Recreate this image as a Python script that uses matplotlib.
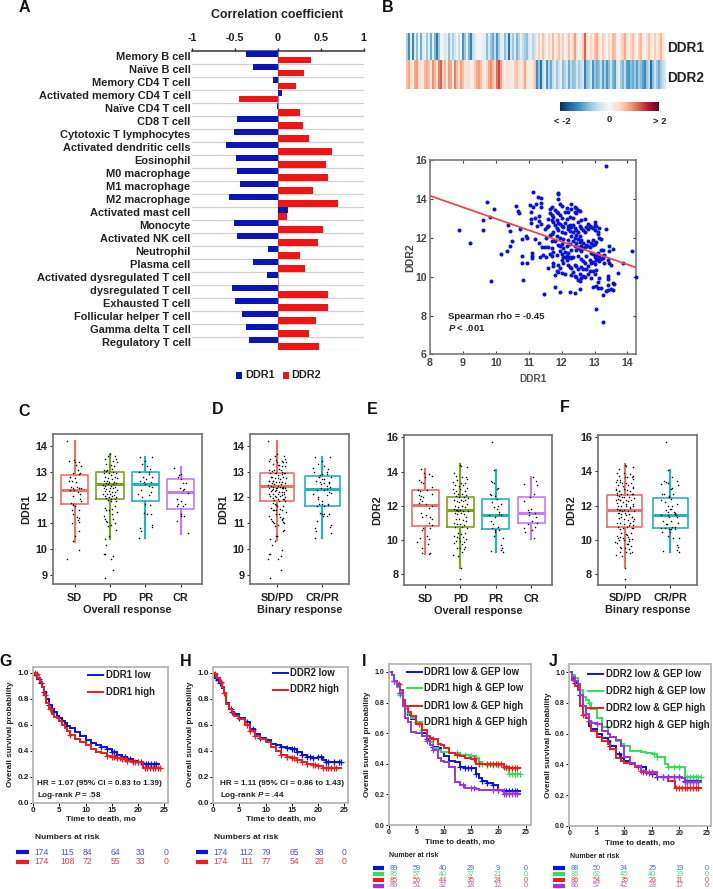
#!/usr/bin/env python
"""Multi panel figure: immune correlation, heatmap, scatter, boxplots and survival curves."""

import matplotlib
matplotlib.use("Agg")
import matplotlib.pyplot as plt
import matplotlib.transforms as mtrans
import numpy as np

plt.rcParams['font.family'] = ['Liberation Sans', 'DejaVu Sans']
plt.rcParams['font.weight'] = 'bold'
plt.rcParams['axes.labelweight'] = 'bold'
plt.rcParams['mathtext.fontset'] = 'custom'
plt.rcParams['mathtext.rm'] = 'Liberation Sans:bold'
plt.rcParams['mathtext.bf'] = 'Liberation Sans:bold'
plt.rcParams['mathtext.bfit'] = 'Liberation Sans:italic:bold'

W, H = 713, 889

# Panel A
cell_types = ["Memory B cell", "Naïve B cell", "Memory CD4 T cell", "Activated memory CD4 T cell",
              "Naïve CD4 T cell", "CD8 T cell", "Cytotoxic T lymphocytes", "Activated dendritic cells",
              "Eosinophil", "M0 macrophage", "M1 macrophage", "M2 macrophage", "Activated mast cell",
              "Monocyte", "Activated NK cell", "Neutrophil", "Plasma cell", "Activated dysregulated T cell",
              "dysregulated T cell", "Exhausted T cell", "Follicular helper T cell", "Gamma delta T cell",
              "Regulatory T cell"]
corr_ddr1 = [-0.365, -0.283, -0.06, 0.045, -0.005, -0.48, -0.51, -0.60, -0.485, -0.474, -0.44, -0.567,
             0.12, -0.516, -0.47, -0.113, -0.29, -0.124, -0.528, -0.497, -0.415, -0.365, -0.338]
corr_ddr2 = [0.39, 0.307, 0.217, -0.45, 0.26, 0.295, 0.365, 0.633, 0.56, 0.583, 0.415, 0.70,
             0.11, 0.53, 0.47, 0.26, 0.315, 0.008, 0.59, 0.59, 0.45, 0.365, 0.48]

# Panel B heatmap, z scores
hm_ddr1 = [-.8, -1.5, -.2, -1.6, -.3, -1.0, -.1, -1.2, -.3, -.2, -.9, -.3, -1.2, -.2, -1.1, -1.7, -.9, 0, -.1, -.4,
           -.2, -1.0, -.3, -.8, -.4, -.1, -.6, -.1, -1.4, -.9, -.2, -1.1, -1.6, -.6, -.3, -.1, 0, -.1, -.2, -.3,
           -1.0, -.4, -.9, -1.2, -.6, -1.4, -.8, -.3, -.2, -1.0, -.5, -1.8, -.4, -.9, -.3, -1.1, -.7, -.2, -.6, -.8,
           -1.0, -.4, -.2, -.7, -.5,
           .2, .6, .1, .7, .3, 0, .5, .2, .8, .1, .4, .7, .2, .6, 0, .3, .7, .1, .5, 1.0, .3, 0, .2, .6, 1.4, .4, .1,
           .5, .2, .7, .9, .4, .1, .6, .3, 0, .5, .2, .8, .7, .1, 0, .3, .6, .9, .4, .2, .5, .7, .3, 0, .6, .8, .2, .1,
           .4, .7, .3, .1, .6, .2, .5, .8, .3, .1]
hm_ddr2 = [.7, .9, .4, .1, .9, 1.0, .5, .3, .2, .8, .9, .7, .2, 1.1, .8, .3, 1.2, 1.4, .5, .8, .2, 1.0, .9, .1, 1.2,
           .8, .4, 1.0, .7, .2, .3, .4, .1, .2, .6, .9, 1.0, .7, .3, .2, .5, .9, 1.1, .8, .4, 1.3, 1.6, 1.0, .3, .1,
           .4, .3, .2, .1, .6, .7, .4, .2, .5, .9, .3, .2, .1, .3, .7,
           -1.5, -1.0, -1.8, -.6, -.3, -1.4, -.8, -1.2, -.6, -.3, -.9, -.5, -.2, -1.0, -.7, -.4, -1.2, -.6, -1.0, -.9,
           -.4, -.8, -.6, -.4, -1.6, -1.0, -.8, -.5, -1.4, -.9, -1.2, -1.0, -.6, -1.3, -.8, -1.4, -1.0, -.5, -1.1, -1.3,
           -.4, -.2, -.8, -1.1, -.6, -1.3, -1.4, -1.0, -1.2, -.9, -1.3, -.8, -1.0, -1.3, -1.5, -.9, -.6, -1.8, -1.0, -.5,
           -.9, -1.2, -.8, -.6, -.4]

# Panel B scatter, each row is one DDR1 value with the DDR2 values seen there
scatter_rows = [
    (8.87, [12.4]), (9.22, [11.73]), (9.6, [12.42]), (9.62, [12.92]), (9.73, [13.87]), (9.81, [13.08]),
    (9.84, [9.8]), (9.93, [13.48]), (10.17, [11.18]), (10.33, [11.35]), (10.36, [12.67]), (10.42, [12.38]),
    (10.43, [11.58]), (10.5, [11.87]), (10.6, [13.66]), (10.68, [13.4]), (10.72, [13.3]), (10.75, [12.47]),
    (10.8, [11.93, 11.07, 10.72]), (10.82, [9.82]), (10.92, [12.12]), (10.95, [12.03, 10.72]),
    (11.03, [13.7]), (11.07, [13.32]), (11.08, [12.98, 12.8]), (11.1, [11.23, 11.1, 10.98]), (11.14, [14.4, 13.6]),
    (11.2, [13.02, 11.95]), (11.22, [13.77]), (11.25, [12.6]), (11.27, [14.12]), (11.3, [13.15, 12.87]),
    (11.32, [11.75]), (11.33, [11.0]), (11.36, [14.07]), (11.37, [13.8]), (11.38, [13.6, 12.75]),
    (11.4, [11.53]), (11.42, [11.12]), (11.47, [9.13]), (11.5, [12.45, 11.55]), (11.52, [11.02]),
    (11.53, [12.0]), (11.55, [12.55]), (11.58, [12.62]),
    (11.6, [13.0, 12.6, 11.55, 10.45]), (11.65, [13.5, 13.3, 12.15, 11.2]),
    (11.7, [13.62, 13.2, 12.95, 12.2, 11.85, 11.5, 11.1]), (11.75, [13.1, 12.85, 12.3, 11.3, 10.7, 10.55]),
    (11.8, [13.45, 12.7, 11.85, 10.1, 9.5]), (11.85, [13.35, 12.95, 12.5, 12.1, 11.15, 10.3]),
    (11.9, [14.3, 14.25, 14.0, 13.3, 12.8, 12.4, 11.65, 10.6, 10.25]),
    (11.95, [13.75, 13.2, 12.75, 12.0, 11.6, 11.35, 10.45, 9.2]),
    (12.0, [13.65, 13.05, 12.6, 12.3, 11.7, 11.2, 10.85, 10.2]), (12.05, [12.55, 11.95, 11.5, 11.05, 10.7]),
    (12.1, [13.35, 12.8, 12.25, 11.3, 11.0, 10.15]), (12.15, [13.55, 13.0, 11.6, 11.1, 10.85]),
    (12.2, [13.35, 12.6, 12.45, 11.9, 11.25, 10.95, 10.6]), (12.25, [13.1, 12.7, 12.35, 11.7, 11.05, 10.5, 9.2]),
    (12.3, [13.78, 13.5, 12.55, 12.1, 11.4, 10.95, 10.45, 10.1]), (12.35, [13.05, 12.65, 12.3, 11.85, 11.0, 10.25]),
    (12.4, [13.6, 13.35, 12.5, 12.0, 11.6, 10.6, 10.05, 9.15]),
    (12.45, [13.55, 13.3, 12.4, 12.15, 11.75, 11.4, 10.55, 10.0]),
    (12.5, [13.45, 12.85, 12.3, 11.95, 11.55, 11.1, 10.4, 9.85]),
    (12.55, [13.4, 12.6, 12.1, 11.8, 11.45, 10.15, 9.8, 9.4]),
    (12.6, [12.95, 12.5, 11.9, 11.6, 11.35, 10.9, 10.5, 9.95]), (12.65, [12.4, 11.75, 11.5, 10.8, 10.4, 10.05]),
    (12.7, [13.0, 12.3, 11.55, 10.7, 10.0]), (12.75, [12.55, 11.65, 11.1, 10.4]),
    (12.8, [12.75, 12.45, 11.85, 11.6, 10.55, 10.15]), (12.85, [12.6, 11.55, 10.85, 10.3]),
    (12.9, [12.55, 11.75, 11.25, 10.7, 9.95]), (12.95, [12.5, 11.9, 11.65, 11.2, 10.75, 10.3, 9.5]),
    (13.0, [12.85, 12.7, 12.4, 11.7, 11.05, 10.65, 10.15]), (13.05, [12.6, 11.8, 11.15, 10.85, 10.35, 9.55, 8.37]),
    (13.1, [12.3, 12.2, 11.25, 10.9, 9.75, 9.45]), (13.15, [12.5, 12.0, 11.05, 10.8, 9.95]),
    (13.2, [11.95, 11.4, 10.9, 9.45]), (13.25, [11.4, 10.95, 9.05, 7.7]), (13.3, [11.15, 10.7]),
    (13.35, [15.72, 12.48, 9.25]), (13.4, [10.85, 10.05, 9.9, 9.6, 9.3]), (13.45, [11.6, 11.35, 10.7]),
    (13.5, [10.6, 9.4]), (13.55, [11.45, 9.7, 9.3]), (13.6, [9.65]), (13.7, [10.2]), (13.87, [10.7]),
    (14.15, [11.32]), (14.27, [10.0]),
]
fit_x = [8, 14.27]
fit_y = [14.18, 10.48]

# Panels C-F: dots are (jitter in category units, value)
sd_ddr1 = [(-.2, 14.18), (-.17, 13.4), (-.02, 13.45), (0, 13.35), (.05, 13.25), (.13, 13.35), (.18, 13.22), (.09, 13.05),
           (.16, 12.93), (.12, 12.92), (-.05, 12.95), (-.12, 12.8), (-.17, 12.65), (-.08, 12.62), (.02, 12.75), (-.14, 12.78),
           (.05, 12.6), (-.1, 12.4), (-.03, 12.36), (-.12, 12.3), (.07, 12.4), (.13, 12.38), (.18, 12.36), (-.02, 12.3),
           (.1, 12.2), (.15, 12.15), (-.05, 12.05), (-.1, 11.8), (-.05, 11.76), (-.03, 11.72), (.15, 11.92), (.18, 11.85),
           (0, 11.65), (-.06, 11.5), (.12, 11.5), (-.03, 11.35), (.07, 11.25), (.14, 11.2), (-.07, 11.02), (.14, 11.05),
           (.1, 11.12), (.13, 10.7), (0, 10.5), (-.05, 10.3), (.12, 9.95), (-.2, 9.63)]
pd_ddr1 = [(-.15, 13.5), (0, 13.68), (.15, 13.6), (.17, 13.5), (-.05, 13.6), (.1, 13.4), (.2, 13.35), (-.1, 13.3),
           (.03, 13.25), (.12, 13.2), (-.18, 13.05), (-.12, 13.02), (-.07, 13.05), (.05, 13.1), (-.16, 12.95), (-.02, 12.95),
           (.1, 13.0), (.18, 12.95), (.02, 12.85), (-.14, 12.8), (-.05, 12.75), (.14, 12.8), (.2, 12.75), (-.18, 12.65),
           (-.08, 12.65), (.07, 12.7), (.12, 12.6), (-.12, 12.55), (-.02, 12.58), (.17, 12.55), (-.2, 12.48), (-.14, 12.45),
           (-.06, 12.5), (.03, 12.45), (.08, 12.5), (.14, 12.42), (-.17, 12.35), (-.1, 12.33), (0, 12.38), (.1, 12.35),
           (.2, 12.3), (-.13, 12.25), (-.04, 12.25), (.05, 12.22), (.15, 12.2), (-.19, 12.15), (-.08, 12.12), (.01, 12.15),
           (.11, 12.1), (-.15, 12.05), (-.03, 12.02), (.07, 12.05), (.17, 12.0), (-.1, 11.97), (.02, 11.95), (.13, 11.92),
           (-.06, 11.9), (.04, 11.88), (.18, 11.85), (-.14, 11.6), (.06, 11.55), (-.02, 11.5), (.14, 11.65), (-.1, 11.5),
           (.19, 11.45), (.05, 11.35), (-.17, 11.3), (-.14, 11.15), (-.11, 11.1), (-.08, 11.05), (.1, 11.15), (.15, 11.0),
           (.02, 10.95), (-.05, 10.9), (.16, 10.75), (-.03, 10.5), (-.15, 10.38), (-.12, 10.17), (-.17, 9.83), (-.15, 9.8),
           (.09, 9.72), (.03, 9.6), (.08, 9.2), (-.15, 8.87)]
pr_ddr1 = [(-.15, 13.55), (.18, 13.58), (0, 13.4), (-.1, 13.3), (.05, 13.2), (.12, 13.1), (-.18, 13.0), (.1, 13.0),
           (.2, 12.8), (.1, 12.9), (-.08, 12.78), (.03, 12.7), (-.14, 12.65), (.16, 12.6), (-.05, 12.58), (-.02, 12.5),
           (.1, 12.45), (.18, 12.4), (-.12, 12.3), (.15, 12.2), (-.2, 12.15), (.1, 12.1), (-.1, 12.0), (0, 11.75), (.12, 11.7),
           (-.05, 11.4), (.05, 11.35), (.15, 11.35), (-.15, 10.8), (-.13, 10.7), (.2, 10.95), (.18, 10.85), (-.17, 10.42)]
cr_ddr1 = [(-.2, 13.15), (0, 12.9), (-.05, 12.85), (-.07, 12.8), (.15, 12.55), (0, 12.7), (.05, 12.55), (-.02, 12.35),
           (.1, 12.33), (.05, 12.3), (.2, 12.18), (-.1, 11.93), (0, 11.85), (-.08, 11.75), (.12, 11.75), (-.12, 11.65),
           (.05, 11.65), (0, 11.35), (.1, 11.3), (-.12, 11.1), (.02, 11.3), (.2, 10.62)]
sd_ddr2 = [(-.12, 14.12), (.12, 13.85), (.18, 13.75), (-.02, 13.9), (0, 13.7), (-.17, 13.5), (-.11, 13.4), (-.07, 13.3),
           (.18, 13.1), (-.2, 12.9), (-.14, 12.85), (.05, 12.9), (.18, 12.7), (-.18, 12.6), (-.13, 12.55), (-.06, 12.5),
           (-.16, 12.4), (-.1, 12.3), (-.17, 12.15), (.02, 12.1), (.18, 12.0), (.12, 11.85), (-.12, 11.55), (-.08, 11.35),
           (.02, 11.45), (.15, 11.35), (.2, 11.2), (.12, 11.0), (.18, 10.85), (.15, 10.7), (-.05, 10.7), (-.1, 10.6),
           (.05, 10.25), (.1, 10.05), (-.15, 10.1), (-.22, 9.85), (.08, 9.75), (-.09, 9.5), (-.1, 9.25), (.12, 9.2), (.15, 9.25)]
pd_ddr2 = [(0, 14.4), (.02, 14.3), (.19, 14.25), (-.17, 13.9), (-.12, 13.75), (.05, 13.7), (.15, 13.65), (.18, 13.55),
           (-.2, 13.4), (-.1, 13.5), (.02, 13.35), (.13, 13.35), (-.16, 13.2), (-.05, 13.15), (.08, 13.2), (.18, 13.05),
           (-.2, 12.95), (-.12, 12.85), (-.02, 12.95), (.12, 12.85), (-.18, 12.75), (-.08, 12.7), (.04, 12.7), (.16, 12.65),
           (-.14, 12.55), (-.03, 12.5), (.09, 12.5), (.2, 12.45), (-.19, 12.35), (-.1, 12.3), (.02, 12.35), (.14, 12.35),
           (-.05, 12.2), (.07, 12.25), (.18, 12.1), (-.16, 12.0), (-.08, 11.95), (.03, 12.0), (.12, 11.9), (-.18, 11.8),
           (-.14, 11.75), (-.11, 11.72), (-.07, 11.7), (-.02, 11.75), (.06, 11.7), (.2, 11.7), (-.16, 11.55), (-.09, 11.5),
           (.01, 11.55), (.1, 11.5), (.16, 11.35), (-.13, 11.25), (-.03, 11.2), (.06, 11.15), (.17, 11.1), (-.18, 11.0),
           (-.1, 10.95), (-.01, 10.9), (.1, 10.85), (-.15, 10.75), (.04, 10.75), (.18, 10.7), (-.08, 10.4), (.02, 10.35),
           (.13, 10.4), (-.18, 10.2), (-.1, 10.15), (-.04, 10.1), (.07, 10.15), (.16, 10.05), (-.13, 9.95), (-.01, 9.95),
           (.1, 9.9), (-.18, 9.8), (.04, 9.75), (.14, 9.6), (-.1, 9.55), (0, 9.5), (.1, 9.45), (-.2, 9.1), (-.07, 9.05),
           (.03, 9.3), (.01, 8.35), (0, 7.7)]
pr_ddr2 = [(-.1, 15.72), (-.05, 14.08), (-.13, 13.45), (-.1, 13.4), (-.05, 13.3), (.05, 13.05), (.03, 12.95), (-.17, 12.7),
           (-.13, 12.65), (-.02, 12.55), (.03, 12.4), (-.12, 12.2), (.15, 12.1), (.05, 12.0), (-.05, 11.95), (.02, 11.8),
           (.08, 11.65), (.1, 11.5), (-.2, 11.45), (.14, 11.45), (-.02, 11.35), (-.15, 11.1), (-.08, 10.9), (.05, 10.75),
           (.1, 10.6), (-.12, 10.7), (-.03, 10.6), (-.01, 10.45), (-.04, 10.2), (.2, 10.1), (.16, 9.7), (.18, 9.55),
           (.15, 9.4), (-.15, 9.35), (.2, 9.3)]
cr_ddr2 = [(.05, 13.65), (.15, 13.45), (-.2, 13.25), (.17, 13.2), (.07, 12.7), (-.02, 12.5), (-.2, 12.3), (0, 11.8),
           (-.1, 11.75), (-.05, 11.65), (.1, 11.55), (-.05, 11.45), (.15, 11.35), (.02, 11.1), (.18, 11.0), (-.1, 10.9),
           (.1, 10.75), (-.2, 10.7), (.02, 10.6), (-.18, 10.45), (.07, 10.1)]

ddr1_groups = [sd_ddr1, pd_ddr1, pr_ddr1, cr_ddr1]
ddr2_groups = [sd_ddr2, pd_ddr2, pr_ddr2, cr_ddr2]
ddr1_binary = [sd_ddr1 + pd_ddr1, pr_ddr1 + cr_ddr1]
ddr2_binary = [sd_ddr2 + pd_ddr2, pr_ddr2 + cr_ddr2]

# whisker low, q1, median, q3, whisker high
box_c = [(10.29, 11.73, 12.28, 12.85, 14.18), (10.41, 11.92, 12.5, 12.98, 13.68),
         (10.42, 11.86, 12.5, 13.0, 13.55), (10.6, 11.57, 12.19, 12.7, 13.16)]
box_d = [(10.35, 11.88, 12.44, 12.94, 14.18), (10.42, 11.68, 12.33, 12.84, 13.55)]
box_e = [(9.16, 10.81, 12.02, 12.9, 14.13), (8.33, 10.75, 11.75, 12.53, 14.44),
         (9.31, 10.61, 11.43, 12.41, 14.09), (10.06, 11.0, 11.57, 12.51, 13.7)]
box_f = [(8.38, 10.75, 11.75, 12.6, 14.42), (9.25, 10.7, 11.43, 12.45, 14.1)]
overall_labels = ["SD", "PD", "PR", "CR"]
binary_labels = ["SD/PD", "CR/PR"]

# Panels G-J survival curves
t_g = [0, .4, .8, 1.2, 1.6, 2, 2.5, 3, 3.5, 4, 4.5, 5, 5.5, 6, 6.5, 7, 8, 9, 10, 11, 12, 13, 14, 15, 16, 17, 18, 19, 20, 21, 22, 23, 24]
g_low = [1, .98, .95, .92, .89, .85, .80, .75, .72, .70, .67, .65, .63, .61, .59, .575, .54, .51, .485, .46, .44, .43, .41, .39, .37, .35, .335, .32, .315, .30, .30, .30, .30]
g_high = [1, .99, .96, .93, .89, .83, .77, .72, .68, .66, .65, .63, .60, .575, .55, .52, .49, .465, .44, .41, .39, .385, .36, .35, .34, .335, .32, .31, .31, .27, .27, .27, .27]
t_h = [0, .3, .8, 1.2, 1.6, 2, 2.5, 3, 3.5, 4, 5, 6, 7, 8, 9, 10, 11, 12, 13, 14, 15, 16, 17, 18, 19, 20, 21, 21.5, 24.5]
h_low = [1, .96, .94, .92, .88, .84, .77, .72, .70, .68, .65, .62, .57, .53, .50, .48, .45, .44, .43, .42, .41, .39, .37, .35, .345, .35, .33, .31, .31]
h_high = [1, .99, .96, .93, .89, .84, .76, .72, .69, .67, .64, .60, .55, .51, .49, .47, .43, .40, .37, .35, .345, .33, .31, .30, .29, .285, .27, .27, .27]
t_i = [0, .5, 1, 1.5, 2, 2.5, 3, 3.5, 4, 5, 6, 7, 7.5, 8, 9, 9.5, 10, 11, 12, 13, 14, 15, 16, 16.5, 17, 18, 19, 20, 21, 22, 24]
i_low_low = [1, .98, .94, .90, .86, .80, .76, .72, .69, .66, .60, .56, .54, .51, .50, .48, .45, .42, .41, .38, .37, .37, .33, .31, .29, .275, .26, .23, .225, .225, .225]
i_high_low = [1, .98, .94, .90, .85, .80, .76, .73, .70, .67, .62, .58, .54, .50, .49, .48, .48, .47, .47, .46, .46, .45, .44, .41, .40, .395, .39, .39, .37, .33, .33]
i_low_high = [1, .98, .94, .92, .88, .82, .78, .74, .71, .66, .62, .58, .57, .56, .53, .52, .50, .47, .46, .45, .44, .43, .40, .40, .40, .40, .40, .40, .38, .375, .375]
i_high_high = [1, .98, .94, .91, .86, .78, .70, .67, .61, .60, .58, .55, .52, .49, .44, .42, .41, .38, .28, .26, .245, .245, .235, .23, .23, .23, .23, .23, .205, .205, .205]
t_j = [0, .5, 1, 1.5, 2, 2.5, 3, 3.5, 4, 5, 6, 7, 7.5, 8.5, 9.5, 10, 11, 12, 13, 14, 15, 16, 17.5, 18, 19.3, 20.5, 21, 24]
j_low_low = [1, .96, .93, .88, .85, .78, .70, .65, .63, .60, .57, .55, .52, .47, .44, .42, .40, .39, .38, .35, .34, .32, .315, .315, .315, .31, .29, .29]
j_high_low = [1, .98, .96, .92, .88, .84, .82, .80, .76, .70, .64, .60, .58, .55, .53, .52, .49, .485, .48, .475, .47, .45, .40, .385, .38, .38, .32, .32]
j_low_high = [1, .95, .91, .88, .78, .72, .70, .68, .62, .58, .55, .53, .50, .44, .42, .41, .40, .385, .35, .345, .345, .32, .315, .29, .245, .245, .245, .245]
j_high_high = [1, .97, .94, .92, .85, .78, .73, .68, .67, .66, .62, .60, .58, .56, .52, .45, .41, .39, .36, .35, .35, .32, .315, .315, .315, .31, .285, .285]

cens_g_low = [.5, 1, 1.5, 2, 3, 5, 5.5, 13, 14, 15, 15.5, 16, 17, 17.5, 18, 18.5, 19, 20, 20.5, 21, 21.5, 22, 22.5, 23, 23.5]
cens_g_high = [.3, .7, 2.2, 3.2, 7, 14, 15, 15.5, 16, 16.5, 17, 17.5, 18, 19, 19.5, 20, 21.3, 21.8, 22.3, 22.8, 23.3, 23.8, 24.3]
cens_h_low = [.5, .9, 1.2, 3.3, 3.6, 5, 6.5, 7.5, 9, 13, 14, 15, 15.5, 16, 17, 18, 18.5, 19, 20, 20.5, 21.5, 22, 23, 24, 24.5]
cens_h_high = [.3, 1.5, 2, 6.5, 7, 8, 13, 14, 15, 15.5, 16, 17, 18, 19, 19.5, 20, 21, 21.5, 22, 22.5, 23, 23.5]
cens_i_low_low = [1, 2, 7, 8, 9, 13, 14, 14.5, 15, 16, 17, 18, 19, 20, 21, 21.5, 22, 22.5, 23, 23.5]
cens_i_high_low = [2, 3.5, 5, 6, 12.5, 14, 15, 16, 17, 18, 19, 20, 21.5, 22, 22.5, 23, 23.5, 24]
cens_i_low_high = [1.8, 3, 5.5, 8, 12.5, 15.5, 16.5, 18, 18.5, 19, 19.5, 20, 20.5, 21, 21.5, 22, 22.5, 23, 23.5]
cens_i_high_high = [1, 2, 7, 8, 13.5, 15, 15.5, 19, 20, 21, 21.5, 22, 22.5, 23, 23.5]
cens_j_low_low = [1, 2, 7, 7.5, 9, 13, 14, 15, 16, 17, 18, 19, 20, 21, 21.5, 22, 22.5, 23]
cens_j_high_low = [2, 3.5, 15.5, 16, 18, 19, 20, 21.5, 22, 22.5, 23, 23.5, 24]
cens_j_low_high = [2.5, 3.5, 12.5, 13.5, 14.5, 15, 19.5, 20, 20.5, 21, 21.5, 22, 22.5, 23, 23.5]
cens_j_high_high = [1, 3, 5, 13, 14.5, 15, 17, 18, 19, 20, 21, 21.5, 22, 22.5, 23, 23.5]

risk_g = [[174, 115, 84, 64, 33, 0], [174, 108, 72, 55, 33, 0]]
risk_h = [[174, 112, 79, 65, 38, 0], [174, 111, 77, 54, 28, 0]]
risk_i = [[89, 59, 40, 29, 9, 0], [85, 57, 40, 37, 21, 0], [85, 56, 44, 35, 24, 0], [89, 51, 32, 18, 12, 0]]
risk_j = [[88, 50, 34, 25, 19, 0], [86, 62, 45, 40, 19, 0], [86, 54, 35, 26, 11, 0], [86, 57, 42, 28, 17, 0]]

BLUE, RED, GREEN, PURPLE = '#0a14d8', '#ee1c1c', '#2fe05a', '#9a35e0'
BOX_COLORS = ['#e8726c', '#7ca31e', '#25b3b5', '#c27cf5']
BINARY_COLORS = ['#e8726c', '#25b3b5']
DARK = '#222222'


def px_axes(fig, x0, y0, x1, y1):
    """Axes placed by pixel box, y counted from the top of the picture."""
    return fig.add_axes([x0 / W, 1 - y1 / H, (x1 - x0) / W, (y1 - y0) / H])


def draw_boxes(fig, box, stats, groups, colors, labels, ylim, yticks, ylabel, xlabel):
    ax = px_axes(fig, *box)
    for i, (st, dots, color) in enumerate(zip(stats, groups, colors)):
        lo, q1, med, q3, hi = st
        ax.bxp([{'whislo': lo, 'q1': q1, 'med': med, 'q3': q3, 'whishi': hi}], positions=[i + 1], widths=0.77,
               showcaps=False, showfliers=False,
               boxprops={'color': color, 'linewidth': 1.2},
               whiskerprops={'color': color, 'linewidth': 1.6},
               medianprops={'color': color, 'linewidth': 2.2, 'solid_capstyle': 'butt'})
        off, val = zip(*dots)
        ax.scatter(i + 1 + np.array(off), val, s=1.2, color='black', linewidths=0, zorder=5)
    ax.set_xlim(0.4, len(stats) + 0.6)
    ax.set_ylim(*ylim)
    ax.set_yticks(yticks)
    ax.set_xticks(range(1, len(stats) + 1))
    ax.set_xticklabels(labels)
    ax.tick_params(axis='both', length=2.5, width=0.8, color='#333333', labelsize=7.8, pad=1.5, labelcolor=DARK)
    ax.tick_params(axis='x', pad=3.5)
    for s in ax.spines.values():
        s.set_color('#707070')
        s.set_linewidth(1.2)
    ax.set_ylabel(ylabel, fontsize=7.8, color=DARK, labelpad=3)
    ax.set_xlabel(xlabel, fontsize=7.8, color=DARK, labelpad=1.5)
    return ax


def draw_km(fig, box, curves, xlim, ylim, sizes):
    ax = px_axes(fig, *box)
    for t, s, cens, color in curves:
        t = np.array(t)
        s = np.array(s)
        ax.plot(t, s, color=color, linewidth=1.4, drawstyle='steps-post', solid_joinstyle='miter')
        cens = np.array(cens)
        cy = s[np.searchsorted(t, cens, side='right') - 1]
        ax.plot(cens, cy, linestyle='none', marker='+', color=color, markersize=sizes[2], markeredgewidth=0.9)
    ax.set_xlim(*xlim)
    ax.set_ylim(*ylim)
    ax.set_xticks([0, 5, 10, 15, 20, 25])
    ax.set_yticks([0, .2, .4, .6, .8, 1.0])
    ax.set_yticklabels(['0.0', '0.2', '0.4', '0.6', '0.8', '1.0'])
    ax.tick_params(axis='both', length=2, width=0.7, labelsize=sizes[0], pad=1.2, labelcolor=DARK)
    for s in ax.spines.values():
        s.set_color('#b5b5b5')
        s.set_linewidth(1.3)
    ax.set_ylabel('Overall survival probability', fontsize=sizes[1], color=DARK, labelpad=2.5)
    ax.set_xlabel('Time to death, mo', fontsize=sizes[1], color=DARK, labelpad=1.5)
    return ax


def main():
    fig = plt.figure(figsize=(W / 100, H / 100), dpi=100)

    # Panel A
    ax = px_axes(fig, 192, 50.7, 363.5, 350)
    ypos = np.arange(len(cell_types))
    ax.set_ylim(len(cell_types) - 0.5, -0.5)
    ax.set_xlim(-1, 1)
    for b in ypos:
        ax.axhline(b + 0.5, color='#d0d0d0', linewidth=0.9, zorder=1)
    ax.barh(ypos - 0.24, corr_ddr1, height=0.48, color='#0a14b8', zorder=3)
    ax.barh(ypos + 0.24, corr_ddr2, height=0.48, color='#f01414', zorder=3)
    ax.axvline(0, color='#909090', linewidth=0.8, zorder=2)
    ax.xaxis.tick_top()
    ax.set_xticks([-1, -0.5, 0, 0.5, 1])
    ax.set_xticklabels(['-1', '-0.5', '0', '0.5', '1'])
    ax.set_yticks(ypos)
    ax.set_yticklabels(cell_types)
    ax.tick_params(axis='x', length=2.5, width=1, labelsize=7.8, pad=3, color=DARK, labelcolor=DARK)
    ax.tick_params(axis='y', length=0, labelsize=7.9, pad=1, labelcolor=DARK)
    shift = mtrans.ScaledTranslation(0, 1.5 / 100, fig.dpi_scale_trans)
    for lab in ax.get_yticklabels():
        lab.set_transform(lab.get_transform() + shift)
    for name in ['left', 'right', 'bottom']:
        ax.spines[name].set_visible(False)
    ax.spines['top'].set_color('#333333')
    ax.spines['top'].set_linewidth(1.1)

    # Panel B heatmap
    ax = px_axes(fig, 406, 33, 666, 89.5)
    ax.imshow(np.array([hm_ddr1, hm_ddr2]), aspect='auto', cmap='RdBu_r', vmin=-2.4, vmax=2.4, interpolation='nearest')
    ax.axis('off')
    ax = px_axes(fig, 560, 102, 659, 111)
    ax.imshow(np.linspace(-2, 2, 256)[None, :], aspect='auto', cmap='RdBu_r', vmin=-2, vmax=2)
    ax.axis('off')

    # Panel B scatter
    ax = px_axes(fig, 430, 160.5, 636.3, 354.5)
    sx = [x for x, ys in scatter_rows for _ in ys]
    sy = [y for _, ys in scatter_rows for y in ys]
    ax.scatter(sx, sy, s=8.5, color='#0a14d8', linewidths=0, zorder=3, clip_on=False)
    ax.plot(fit_x, fit_y, color='#e84a48', linewidth=1.3, zorder=4)
    ax.set_xlim(8, 14.27)
    ax.set_ylim(6, 16)
    ax.set_xticks(range(8, 15))
    ax.set_yticks([6, 8, 10, 12, 14, 16])
    ax.tick_params(axis='both', direction='in', top=True, right=True, length=2.5, width=0.8, color='#444444',
                   labelsize=7.6, pad=2.5, labelcolor='#444444')
    for s in ax.spines.values():
        s.set_color('#7a7a7a')
        s.set_linewidth(1.2)
    ax.set_xlabel('DDR1', fontsize=7.3, color='#555555', labelpad=4.5)
    ax.set_ylabel('DDR2', fontsize=7.6, color='#444444', labelpad=0)
    ax.text(0.085, 0.197, 'Spearman rho = -0.45', transform=ax.transAxes, fontsize=6.8, color=DARK, va='center')
    ax.text(0.085, 0.138, r'$\mathbfit{P}$ < .001', transform=ax.transAxes, fontsize=6.8, color=DARK, va='center')

    # Panels C-F
    draw_boxes(fig, (53.3, 434.3, 202, 584.3), box_c, ddr1_groups, BOX_COLORS, overall_labels, (8.64, 14.44),
               [9, 10, 11, 12, 13, 14], 'DDR1', 'Overall response')
    draw_boxes(fig, (250, 434.3, 349.3, 584.3), box_d, ddr1_binary, BINARY_COLORS, binary_labels, (8.64, 14.44),
               [9, 10, 11, 12, 13, 14], 'DDR1', 'Binary response')
    draw_boxes(fig, (404, 435.3, 552.3, 585.3), box_e, ddr2_groups, BOX_COLORS, overall_labels, (7.34, 16.12),
               [8, 10, 12, 14, 16], 'DDR2', 'Overall response')
    draw_boxes(fig, (597.7, 435.3, 697.3, 585), box_f, ddr2_binary, BINARY_COLORS, binary_labels, (7.34, 16.12),
               [8, 10, 12, 14, 16], 'DDR2', 'Binary response')

    # Panels G-J
    ax = draw_km(fig, (33.3, 666.7, 168.3, 802.7), [(t_g, g_low, cens_g_low, BLUE), (t_g, g_high, cens_g_high, RED)],
                 (0, 25.8), (0, 1.046), (5.8, 5.9, 5))
    ax.text(0.03, 0.143, 'HR = 1.07 (95% CI = 0.83 to 1.39)', transform=ax.transAxes, fontsize=5.9, color=DARK, va='center')
    ax.text(0.03, 0.055, r'Log-rank $\mathbfit{P}$ = .58', transform=ax.transAxes, fontsize=5.9, color=DARK, va='center')
    ax = draw_km(fig, (213.3, 666.7, 348.3, 802.7), [(t_h, h_low, cens_h_low, BLUE), (t_h, h_high, cens_h_high, RED)],
                 (0, 25.8), (0, 1.046), (5.8, 5.9, 5))
    ax.text(0.05, 0.143, 'HR = 1.11 (95% CI = 0.86 to 1.43)', transform=ax.transAxes, fontsize=5.9, color=DARK, va='center')
    ax.text(0.05, 0.055, r'Log-rank $\mathbfit{P}$ = .44', transform=ax.transAxes, fontsize=5.9, color=DARK, va='center')
    draw_km(fig, (389, 664, 531, 825),
            [(t_i, i_low_low, cens_i_low_low, BLUE), (t_i, i_high_low, cens_i_high_low, GREEN),
             (t_i, i_low_high, cens_i_low_high, RED), (t_i, i_high_high, cens_i_high_high, PURPLE)],
            (0, 26), (0, 1.052), (5, 5.9, 4.5))
    draw_km(fig, (569.3, 664, 711, 826),
            [(t_j, j_low_low, cens_j_low_low, BLUE), (t_j, j_high_low, cens_j_high_low, GREEN),
             (t_j, j_low_high, cens_j_low_high, RED), (t_j, j_high_high, cens_j_high_high, PURPLE)],
            (0, 25.8), (0, 1.052), (5, 5.9, 4.5))

    # Overlay in picture pixels for the loose text, keys and risk tables
    page = fig.add_axes([0, 0, 1, 1], zorder=10)
    page.set_xlim(0, W)
    page.set_ylim(H, 0)
    page.axis('off')

    letters = [('A', 24, 7), ('B', 388, 7), ('C', 24, 412), ('D', 218, 410), ('E', 372, 410), ('F', 565, 408),
               ('G', 6, 662), ('H', 186, 662), ('I', 364, 662), ('J', 553, 662)]
    for name, x, y in letters:
        page.text(x, y, name, fontsize=11.5, color='#111111', ha='center', va='center')

    page.text(277, 14.5, 'Correlation coefficient', fontsize=8.9, color=DARK, ha='center', va='center')
    page.scatter([239, 286], [375.5, 375.5], marker='s', s=22, color=['#0a14b8', '#f01414'], linewidths=0)
    page.text(245, 375.5, 'DDR1', fontsize=7.8, color=DARK, va='center')
    page.text(291, 375.5, 'DDR2', fontsize=7.8, color=DARK, va='center')
    page.text(667, 48, 'DDR1', fontsize=9.8, color=DARK, va='center')
    page.text(667, 78, 'DDR2', fontsize=9.8, color=DARK, va='center')
    page.text(562, 121, '< -2', fontsize=6.8, color=DARK, ha='center', va='center')
    page.text(609, 119, '0', fontsize=6.8, color=DARK, ha='center', va='center')
    page.text(660, 121, '> 2', fontsize=6.8, color=DARK, ha='center', va='center')

    def keys(x0, x1, xt, ys, names, colors, size):
        for y, name, color in zip(ys, names, colors):
            if color:
                page.plot([x0, x1], [y, y], color=color, linewidth=1.4)
            page.text(xt, y, name, fontsize=size, color=DARK, va='center')

    keys(88.3, 103.3, 106, [675, 692], ['DDR1 low', 'DDR1 high'], [BLUE, RED], 6.9)
    keys(272.6, 287.6, 290.3, [673, 689.5], ['DDR2 low', 'DDR2 high'], [BLUE, RED], 6.9)
    keys(406.7, 421.7, 424.3, [671.7, 688.3, 706, 722.3],
         ['DDR1 low & GEP low', 'DDR1 high & GEP low', 'DDR1 low & GEP high', 'DDR1 high & GEP high'],
         [BLUE, GREEN, RED, None], 6.85)
    keys(588.3, 603.3, 605.7, [674, 690.7, 708.3, 725],
         ['DDR2 low & GEP low', 'DDR2 high & GEP low', 'DDR2 low & GEP high', 'DDR2 high & GEP high'],
         [BLUE, GREEN, RED, None], 6.85)

    def risk(title, xt, yt, size_t, cols, ys, rows, colors, sw, size, text_colors):
        page.text(xt, yt, title, fontsize=size_t, color=DARK, va='center')
        for row, y, color, tcolor in zip(rows, ys, colors, text_colors):
            page.plot(sw, [y, y], color=color, linewidth=3, solid_capstyle='butt')
            for x, v in zip(cols, row):
                page.text(x, y, str(v), fontsize=size, color=tcolor, ha='center', va='center', fontweight='normal')

    light = ['#3c5ad0', '#e04040']
    risk('Numbers at risk', 35.3, 837.3, 6, [41.7, 67.7, 87.3, 115, 140.3, 165.7], [852.3, 862],
         risk_g, [BLUE, RED], [16.3, 29], 6.2, light)
    risk('Numbers at risk', 214.3, 837.3, 6, [220.3, 246.7, 266.3, 294, 319.3, 344.3], [852.3, 862],
         risk_h, [BLUE, RED], [196, 208], 6.2, light)
    light4 = ['#4a66d8', '#4fd868', '#e04040', '#b060e8']
    risk('Number at risk', 389, 855.7, 5, [393.7, 416.3, 443, 470.7, 497.7, 525.3], [868.3, 874, 880, 885.7],
         risk_i, [BLUE, GREEN, RED, PURPLE], [373, 384.3], 5.2, light4)
    risk('Number at risk', 570, 856.7, 5, [574.7, 596.7, 624.3, 652.3, 679.7, 706.7], [868.3, 874, 880, 885.7],
         risk_j, [BLUE, GREEN, RED, PURPLE], [553.3, 565], 5.2, light4)

    plt.savefig('out.png', dpi=100)


if __name__ == "__main__":
    main()
